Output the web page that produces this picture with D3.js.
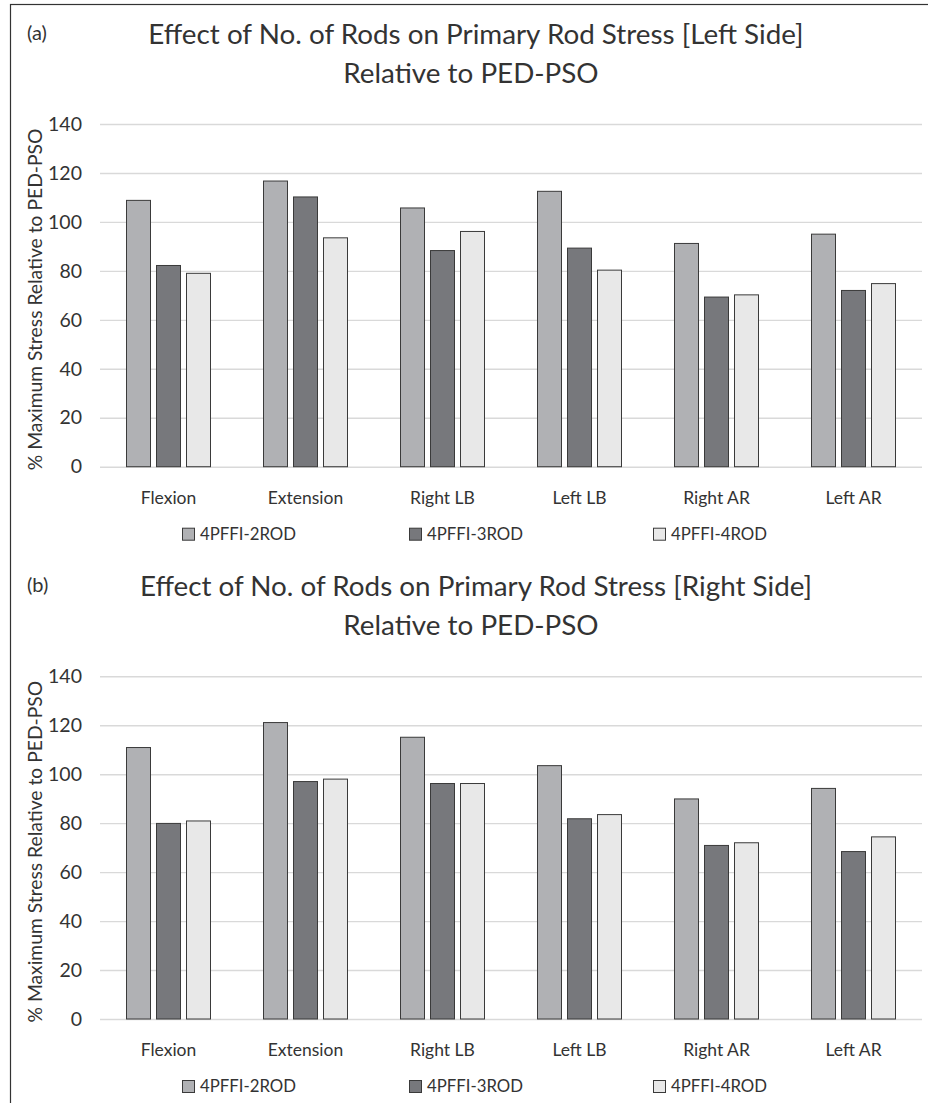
<!DOCTYPE html>
<html>
<head>
<meta charset="utf-8">
<script src="https://cdn.jsdelivr.net/npm/d3@7"></script>
<style>
  html, body { margin: 0; padding: 0; background: #fff; overflow: hidden; }
  svg { display: block; }
  text { font-family: Lato, "Open Sans", sans-serif; fill: #333; }
</style>
</head>
<body>
<div id="chart"></div>
<script>
// categories and series
const categories = ["Flexion", "Extension", "Right LB", "Left LB", "Right AR", "Left AR"]
const series = ["4PFFI-2ROD", "4PFFI-3ROD", "4PFFI-4ROD"]
const yTicks = [0, 20, 40, 60, 80, 100, 120, 140]

// panel (a) left side
const leftRod2 = [108.8, 116.7, 105.7, 112.5, 91.2, 95.0]
const leftRod3 = [82.2, 110.2, 88.3, 89.3, 69.3, 72.0]
const leftRod4 = [79.0, 93.5, 96.1, 80.3, 70.2, 74.8]

// panel (b) right side
const rightRod2 = [110.9, 121.1, 115.1, 103.5, 89.9, 94.2]
const rightRod3 = [79.9, 97.0, 96.2, 81.8, 70.9, 68.4]
const rightRod4 = [80.9, 98.0, 96.2, 83.5, 72.0, 74.4]

const colors = {"4PFFI-2ROD": "#b0b1b4", "4PFFI-3ROD": "#77787c", "4PFFI-4ROD": "#e8e8e8"}

const width = 928
const height = 1103

const svg = d3.select('#chart')
  .append("svg")
  .attr("width", width)
  .attr("height", height)

// outer frame (runs off the right and bottom edges)
svg.append("rect")
  .attr("x", 10.5)
  .attr("y", 4.5)
  .attr("width", 1000)
  .attr("height", 1200)
  .attr("fill", "none")
  .attr("stroke", "#333")
  .attr("stroke-width", 1.2)

function drawPanel(top, tag, side, v2, v3, v4) {
  const margin = {left: 100, right: 6, top: 124}
  const plotH = 342.7
  const g = svg.append("g").attr("transform", "translate(0," + top + ")")

  const x = d3.scaleBand()
    .domain(categories)
    .range([margin.left, width - margin.right])

  const x1 = d3.scaleBand()
    .domain(series)
    .range([-42, 42])
    .paddingInner(0.2)

  const y = d3.scaleLinear()
    .domain([0, 140])
    .range([margin.top + plotH, margin.top])

  // titles
  g.append("text")
    .attr("x", 27)
    .attr("y", 40)
    .style("font-size", "20px")
    .text(tag)

  g.append("text")
    .attr("x", 476)
    .attr("y", 44)
    .attr("text-anchor", "middle")
    .style("font-size", "27.8px")
    .text("Effect of No. of Rods on Primary Rod Stress [" + side + "]")

  g.append("text")
    .attr("x", 471)
    .attr("y", 83)
    .attr("text-anchor", "middle")
    .style("font-size", "27.8px")
    .text("Relative to PED-PSO")

  // y axis with gridlines
  const yAxis = d3.axisLeft(y)
    .tickValues(yTicks)
    .tickSize(-(x.range()[1] - x.range()[0]))
    .tickPadding(18)

  const ya = g.append("g")
    .attr("transform", "translate(" + margin.left + ",0)")
    .call(yAxis)
  ya.select(".domain").remove()
  ya.selectAll("line").attr("stroke", "#d9d9d9").attr("stroke-width", 1.4)
  ya.selectAll("text").style("font-size", "19.5px").style("font-family", "Lato, sans-serif").attr("fill", "#333")

  g.append("text")
    .attr("transform", "translate(42," + (margin.top + plotH / 2 + 4) + ") rotate(-90)")
    .attr("text-anchor", "middle")
    .style("font-size", "19.3px")
    .text("% Maximum Stress Relative to PED-PSO")

  // bars
  const rows = categories.map((c, i) => ({cat: c, vals: [v2[i], v3[i], v4[i]]}))

  const grp = g.selectAll(".grp")
    .data(rows)
    .enter().append("g")
    .attr("transform", d => "translate(" + (x(d.cat) + x.bandwidth() / 2) + ",0)")

  grp.selectAll("rect")
    .data(d => d.vals.map((v, j) => ({s: series[j], v: v})))
    .enter().append("rect")
    .attr("x", d => x1(d.s))
    .attr("y", d => y(d.v))
    .attr("width", x1.bandwidth())
    .attr("height", d => y(0) - y(d.v))
    .attr("fill", d => colors[d.s])
    .attr("stroke", "#3a3a3a")
    .attr("stroke-width", 1)

  // category labels
  const xa = g.append("g")
    .attr("transform", "translate(0," + y(0) + ")")
    .call(d3.axisBottom(x).tickSize(0).tickPadding(25))
  xa.select(".domain").remove()
  xa.selectAll("text").style("font-size", "17.5px").style("font-family", "Lato, sans-serif").attr("fill", "#333")

  // legend
  const legX = [182, 409, 653]
  const leg = g.selectAll(".leg")
    .data(series)
    .enter().append("g")
    .attr("transform", (d, i) => "translate(" + legX[i] + "," + (y(0) + 67) + ")")

  leg.append("rect")
    .attr("x", 0.5)
    .attr("y", -5.5)
    .attr("width", 12)
    .attr("height", 12)
    .attr("fill", d => colors[d])
    .attr("stroke", "#3a3a3a")
    .attr("stroke-width", 1)

  leg.append("text")
    .attr("x", 18)
    .attr("y", 0)
    .attr("dy", "0.35em")
    .style("font-size", "16.8px")
    .text(d => d)
}

drawPanel(0, "(a)", "Left Side", leftRod2, leftRod3, leftRod4)
drawPanel(552.3, "(b)", "Right Side", rightRod2, rightRod3, rightRod4)
</script>
</body>
</html>
